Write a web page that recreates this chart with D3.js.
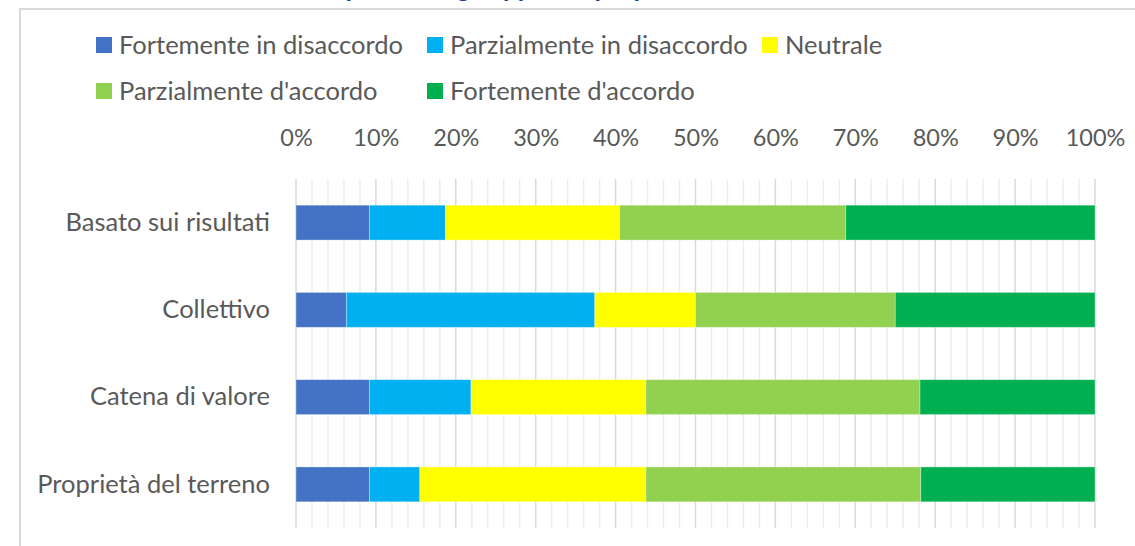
<!DOCTYPE html>
<html>
<head>
<meta charset="utf-8">
<script src="https://cdn.jsdelivr.net/npm/d3@7"></script>
<style>
  body { margin: 0; background: #fff; }
  svg { display: block; font-family: Lato, "Open Sans", sans-serif; }
</style>
</head>
<body>
<div id="chart"></div>
<script>
// data (percent of respondents)
const categories = ["Basato sui risultati", "Collettivo", "Catena di valore", "Proprietà del terreno"];
const series = ["Fortemente in disaccordo", "Parzialmente in disaccordo", "Neutrale", "Parzialmente d'accordo", "Fortemente d'accordo"];
const colors = ["#4472c4", "#00b0f0", "#ffff00", "#92d050", "#00b050"];
const values = [
    [9.2, 9.5, 21.8, 28.3, 31.2],
    [6.3, 31.1, 12.6, 25.0, 25.0],
    [9.2, 12.7, 21.9, 34.3, 21.9],
    [9.2, 6.3, 28.3, 34.4, 21.8]
];
const majorTicks = d3.range(0, 101, 10);
const minorTicks = d3.range(0, 101, 2).filter(d => d % 10 !== 0);
const titleText = "Opinioni sugli approcci proposti";

const width = 1135, height = 546;
const labelSize = 25.5;
const tickSize = 23.5;
const textColor = "#595959";

const svg = d3.select("#chart").append("svg")
    .attr("width", width)
    .attr("height", height);

// chart frame (partly cut off by the crop)
svg.append("rect")
    .attr("x", 20).attr("y", 9)
    .attr("width", width + 20).attr("height", height + 20)
    .attr("fill", "#fff")
    .attr("stroke", "#d9d9d9")
    .attr("stroke-width", 2);

// title, almost all of it above the visible area
svg.append("text")
    .attr("x", 508).attr("y", -3)
    .attr("text-anchor", "middle")
    .attr("fill", "#203a96")
    .style("font-size", "26px")
    .style("font-weight", "bold")
    .text(titleText);

const x = d3.scaleLinear().domain([0, 100]).range([296, 1095]);
const y = d3.scaleBand().domain(categories).range([179, 528]).paddingInner(0.6).paddingOuter(0.3);

// gridlines
const grid = svg.append("g");
grid.selectAll(".minor")
    .data(minorTicks)
    .join("line")
    .attr("class", "minor")
    .attr("x1", d => x(d)).attr("x2", d => x(d))
    .attr("y1", y.range()[0]).attr("y2", y.range()[1])
    .attr("stroke", "#ededed")
    .attr("stroke-width", 1.5);
grid.selectAll(".major")
    .data(majorTicks)
    .join("line")
    .attr("class", "major")
    .attr("x1", d => x(d)).attr("x2", d => x(d))
    .attr("y1", y.range()[0]).attr("y2", y.range()[1])
    .attr("stroke", "#d9d9d9")
    .attr("stroke-width", 1.5);

// top axis
const xAxis = svg.append("g")
    .attr("transform", "translate(0,146)")
    .call(d3.axisTop(x).tickValues(majorTicks).tickFormat(d => d + "%").tickSize(0).tickPadding(0));
xAxis.select(".domain").remove();
xAxis.selectAll("text")
    .attr("fill", textColor)
    .style("font-size", tickSize + "px")
    .style("font-family", "Lato, sans-serif");

// category labels
const yAxis = svg.append("g")
    .attr("transform", "translate(270,0)")
    .call(d3.axisLeft(y).tickSize(0).tickPadding(0));
yAxis.select(".domain").remove();
yAxis.selectAll("text")
    .attr("fill", textColor)
    .style("font-size", labelSize + "px")
    .style("font-family", "Lato, sans-serif");

// stacked bars
const rows = categories.map((c, i) => {
    const r = {category: c};
    series.forEach((s, j) => r[s] = values[i][j]);
    return r;
});
const stack = d3.stack().keys(series)(rows);
const color = d3.scaleOrdinal().domain(series).range(colors);

svg.append("g")
    .selectAll("g")
    .data(stack)
    .join("g")
    .attr("fill", d => color(d.key))
    .selectAll("rect")
    .data(d => d)
    .join("rect")
    .attr("x", d => x(d[0]))
    .attr("width", d => x(d[1]) - x(d[0]))
    .attr("y", d => y(d.data.category))
    .attr("height", y.bandwidth())
    .attr("stroke", "#ffffff")
    .attr("stroke-opacity", 0.4)
    .attr("stroke-width", 0.8);

// legend, two rows
const legendPos = [
    {x: 96, y: 45}, {x: 427, y: 45}, {x: 762, y: 45},
    {x: 96, y: 91}, {x: 427, y: 91}
];
const legend = svg.append("g")
    .selectAll("g")
    .data(series)
    .join("g")
    .attr("transform", (d, i) => `translate(${legendPos[i].x},${legendPos[i].y})`);
legend.append("rect")
    .attr("x", 0).attr("y", -8)
    .attr("width", 16).attr("height", 16)
    .attr("fill", d => color(d));
legend.append("text")
    .attr("x", 23).attr("y", 0)
    .attr("dy", "0.35em")
    .attr("fill", textColor)
    .style("font-size", labelSize + "px")
    .text(d => d);
</script>
</body>
</html>
